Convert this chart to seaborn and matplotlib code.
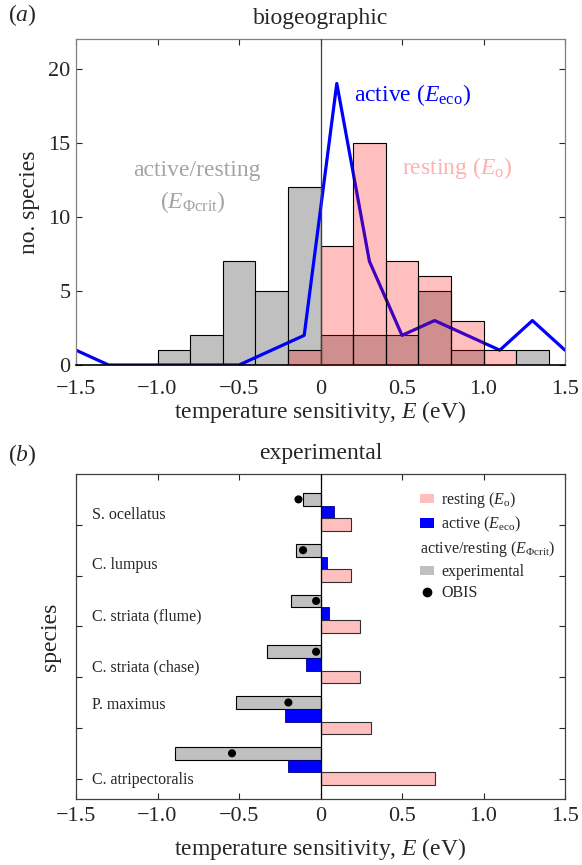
import numpy as np
import matplotlib
matplotlib.use("Agg")
import matplotlib.pyplot as plt
import seaborn as sns
from matplotlib.patches import Patch
from matplotlib.lines import Line2D

# ---------------- data ----------------
# (a) biogeographic histogram (bin width 0.2 eV)
bin_edges = [-1.0, -0.8, -0.6, -0.4, -0.2, 0.0, 0.2, 0.4, 0.6, 0.8, 1.0, 1.2, 1.4]
bin_centers = [-0.9, -0.7, -0.5, -0.3, -0.1, 0.1, 0.3, 0.5, 0.7, 0.9, 1.1, 1.3]
crit_counts = [1, 2, 7, 5, 12, 2, 2, 2, 5, 1, 0, 1]      # active/resting (E_Phi crit)
rest_counts = [0, 0, 0, 0, 1, 8, 15, 7, 6, 3, 1, 0]      # resting (E_o)
eco_x = [-1.5, -1.3, -1.1, -0.9, -0.7, -0.5, -0.3, -0.1, 0.1, 0.3, 0.5, 0.7, 0.9, 1.1, 1.3, 1.5]
eco_counts = [1, 0, 0, 0, 0, 0, 1, 2, 19, 7, 2, 3, 2, 1, 3, 1]  # active (E_eco)

# (b) experimental
species = ["S. ocellatus", "C. lumpus", "C. striata (flume)",
           "C. striata (chase)", "P. maximus", "C. atripectoralis"]
exp_crit = [-0.11, -0.15, -0.18, -0.33, -0.52, -0.89]
exp_eco = [0.08, 0.04, 0.055, -0.09, -0.22, -0.20]
exp_rest = [0.19, 0.19, 0.24, 0.24, 0.31, 0.70]
obis = [-0.135, -0.107, -0.027, -0.027, -0.197, -0.543]
label_y = [-0.2, 0.8, 1.8, 2.8, 3.54, 5.02]

xticks = [-1.5, -1.0, -0.5, 0, 0.5, 1.0, 1.5]
xticklabels = ["\u22121.5", "\u22121.0", "\u22120.5", "0", "0.5", "1.0", "1.5"]
yticks_a = [0, 5, 10, 15, 20]

# ---------------- style ----------------
sns.set_theme(style="ticks")
plt.rcParams["font.family"] = ["Liberation Serif", "DejaVu Serif"]
plt.rcParams["mathtext.fontset"] = "custom"
plt.rcParams["mathtext.rm"] = "Liberation Serif"
plt.rcParams["mathtext.it"] = "Liberation Serif:italic"
plt.rcParams["mathtext.bf"] = "Liberation Serif:bold"
plt.rcParams["axes.unicode_minus"] = True

GRAY = "#c0c0c0"
BLUE = "#0000ff"
PINK = "#ffbfbf"
PHI = "$E_{\\mathit{\u03a6}\\mathrm{crit}}$"

W, H = 582, 865
fig = plt.figure(figsize=(W / 100, H / 100), dpi=100)

def rect(l, t, r, b):
    return [l / W, 1 - b / H, (r - l) / W, (b - t) / H]

ax1 = fig.add_axes(rect(76, 39, 565, 365))
ax2 = fig.add_axes(rect(76, 474, 565, 799))

# ---------------- (a) ----------------
sns.histplot(x=bin_centers, weights=crit_counts, bins=bin_edges, color=GRAY,
             alpha=1.0, edgecolor="black", linewidth=0.8, ax=ax1, zorder=1)
sns.lineplot(x=eco_x, y=eco_counts, color=BLUE, linewidth=2.3, ax=ax1, zorder=2)
sns.histplot(x=bin_centers, weights=rest_counts, bins=bin_edges, color="red",
             alpha=0.25, edgecolor="black", linewidth=0.8, ax=ax1, zorder=3)
ax1.axvline(0, color="#404040", lw=0.9, zorder=4)

ax1.set_xlim(-1.5, 1.5)
ax1.set_ylim(0, 22)
ax1.set_xticks(xticks)
ax1.set_xticklabels(xticklabels)
ax1.set_yticks(yticks_a)
ax1.tick_params(direction="in", top=True, right=True, length=4, width=0.8,
                labelsize=16, pad=4)
ax1.tick_params(axis="x", pad=11)
for s in ["left", "top", "right"]:
    ax1.spines[s].set_color("#808080")
    ax1.spines[s].set_linewidth(0.9)
ax1.spines["bottom"].set_color("black")
ax1.spines["bottom"].set_linewidth(1.2)
ax1.set_xlabel("temperature sensitivity, $E$ (eV)", fontsize=17, labelpad=0)
ax1.set_ylabel("no. species", fontsize=17, labelpad=6)
ax1.set_title("biogeographic", fontsize=17, pad=11)

ax1.text(-0.76, 13.15, "active/resting", color="#a4a4a4", fontsize=17,
         ha="center", va="center")
ax1.text(-0.78, 11.0, "(" + PHI + ")", color="#a4a4a4",
         fontsize=17, ha="center", va="center")
ax1.text(0.205, 18.2, r"active ($E_\mathrm{eco}$)", color=BLUE, fontsize=17,
         ha="left", va="center")
ax1.text(0.5, 13.3, r"resting ($E_\mathrm{o}$)", color="#ffb0b0", fontsize=17,
         ha="left", va="center")

# ---------------- (b) ----------------
pos = np.arange(len(species))
ax2.barh(pos - 0.5, exp_crit, height=0.25, color=GRAY, edgecolor="black", linewidth=0.8, zorder=2)
ax2.barh(pos - 0.25, exp_eco, height=0.25, color=BLUE, edgecolor="#000080", linewidth=0.6, zorder=2)
ax2.barh(pos, exp_rest, height=0.25, color=PINK, edgecolor="#303030", linewidth=0.8, zorder=2)
sns.scatterplot(x=obis, y=pos - 0.5, color="black", s=34, edgecolor="none",
                ax=ax2, zorder=4, legend=False)
ax2.axvline(0, color="black", lw=0.9, zorder=3)

for name, yy in zip(species, label_y):
    ax2.text(-1.4, yy, name, fontsize=11.5, ha="left", va="center")

ax2.set_xlim(-1.5, 1.5)
ax2.set_ylim(5.4, -1.0)
ax2.set_xticks(xticks)
ax2.set_xticklabels(xticklabels)
ax2.set_yticks(pos)
ax2.set_yticklabels([])
ax2.tick_params(direction="in", top=True, right=True, length=4, width=0.8,
                labelsize=16, pad=6)
for s in ax2.spines.values():
    s.set_color("#404040")
    s.set_linewidth(0.9)
ax2.set_xlabel("temperature sensitivity, $E$ (eV)", fontsize=17, labelpad=7)
ax2.set_ylabel("species", fontsize=17, labelpad=5)
ax2.set_title("experimental", fontsize=17, pad=11)

handles = [Patch(facecolor=PINK, edgecolor="none"),
           Patch(facecolor=BLUE, edgecolor="none"),
           Patch(facecolor="none", edgecolor="none"),
           Patch(facecolor=GRAY, edgecolor="none"),
           Line2D([], [], marker="o", linestyle="", color="black", markersize=6)]
labels = [r"resting ($E_\mathrm{o}$)", r"active ($E_\mathrm{eco}$)",
          "active/resting (" + PHI + ")", "experimental", "OBIS"]
leg = ax2.legend(handles, labels, loc="upper left", bbox_to_anchor=(0.703, 0.95),
                 frameon=False, fontsize=11.5, handlelength=0.9, handleheight=0.5,
                 handletextpad=0.45, labelspacing=0.3, borderpad=0, borderaxespad=0)
leg.get_texts()[2].set_x(-21)

fig.text(8 / W, 1 - 15 / H, "($a$)", fontsize=17, ha="left", va="center")
fig.text(8 / W, 1 - 455 / H, "($b$)", fontsize=17, ha="left", va="center")

fig.savefig("out.png", dpi=100)
